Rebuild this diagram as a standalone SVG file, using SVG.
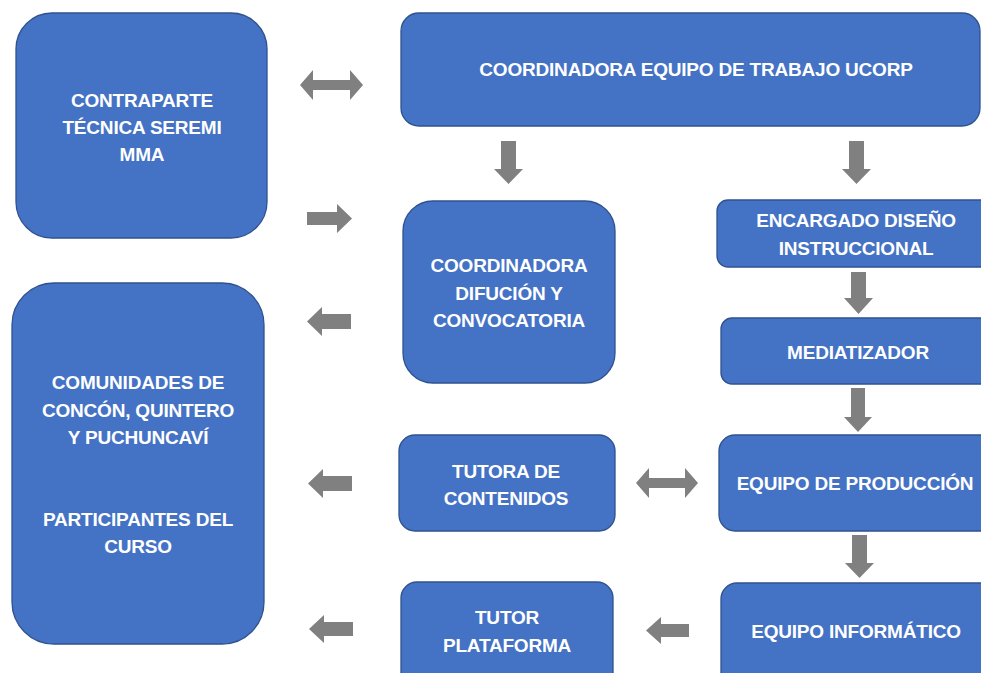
<svg xmlns="http://www.w3.org/2000/svg" width="981" height="673" viewBox="0 0 981 673">
<style>
.box{fill:#4472C4;stroke:#2F528F;stroke-width:1.3}
.t{font-family:"Liberation Sans",Arial,sans-serif;font-weight:bold;font-size:19px;letter-spacing:-0.2px;fill:#FFFFFF;text-anchor:middle}
.arr{fill:#808080}
</style>
<rect width="981" height="673" fill="#FFFFFF"/>
<g id="connectors">
<path class="arr" d="M300,85 L313,70 L313,80 L350,80 L350,70 L363,85 L350,100 L350,90 L313,90 L313,100 Z"/>
<path class="arr" d="M307,212 L337,212 L337,204 L352,218.5 L337,233 L337,225 L307,225 Z"/>
<path class="arr" d="M307,321.5 L322,307 L322,314 L351,314 L351,329 L322,329 L322,336 Z"/>
<path class="arr" d="M308,483.5 L323,469 L323,476 L352,476 L352,491 L323,491 L323,498 Z"/>
<path class="arr" d="M309,629 L324,615 L324,622 L353,622 L353,636 L324,636 L324,643 Z"/>
<path class="arr" d="M646,630.5 L661,617 L661,624 L689,624 L689,637 L661,637 L661,644 Z"/>
<path class="arr" d="M636,483 L649,468 L649,478 L685,478 L685,468 L698,483 L685,498 L685,488 L649,488 L649,498 Z"/>
<path class="arr" d="M501,141 L516,141 L516,169 L523,169 L508.5,184 L494,169 L501,169 Z"/>
<path class="arr" d="M849,141 L864,141 L864,169 L871,169 L856.5,184 L842,169 L849,169 Z"/>
<path class="arr" d="M851,272 L866,272 L866,298 L873,298 L858.5,314 L844,298 L851,298 Z"/>
<path class="arr" d="M851,388 L865,388 L865,417 L872,417 L858,432 L844,417 L851,417 Z"/>
<path class="arr" d="M852,535 L867,535 L867,563 L874,563 L859.5,578 L845,563 L852,563 Z"/>
</g>
<g id="contraparte">
<rect class="box" x="16" y="13" width="251" height="225" rx="36"/>
<text class="t" x="142" y="107">CONTRAPARTE</text>
<text class="t" x="142" y="134">TÉCNICA SEREMI</text>
<text class="t" x="142" y="161">MMA</text>
</g>
<g id="coordinadora-ucorp">
<rect class="box" x="401" y="13" width="579" height="113" rx="18"/>
<text class="t" x="696" y="76">COORDINADORA EQUIPO DE TRABAJO UCORP</text>
</g>
<g id="coordinadora-difusion">
<rect class="box" x="403" y="201" width="212" height="182" rx="30"/>
<text class="t" x="509" y="272">COORDINADORA</text>
<text class="t" x="509" y="300">DIFUCIÓN Y</text>
<text class="t" x="509" y="327">CONVOCATORIA</text>
</g>
<g id="encargado">
<rect class="box" x="717" y="200" width="280" height="67" rx="11"/>
<text class="t" x="856" y="227">ENCARGADO DISEÑO</text>
<text class="t" x="856" y="255">INSTRUCCIONAL</text>
</g>
<g id="mediatizador">
<rect class="box" x="721" y="318" width="276" height="66" rx="11"/>
<text class="t" x="858" y="359">MEDIATIZADOR</text>
</g>
<g id="comunidades">
<rect class="box" x="12" y="283" width="252" height="361" rx="42"/>
<text class="t" x="138" y="389">COMUNIDADES DE</text>
<text class="t" x="138" y="417">CONCÓN, QUINTERO</text>
<text class="t" x="138" y="444">Y PUCHUNCAVÍ</text>
<text class="t" x="138" y="526">PARTICIPANTES DEL</text>
<text class="t" x="138" y="553">CURSO</text>
</g>
<g id="tutora">
<rect class="box" x="399" y="435" width="216" height="96" rx="16"/>
<text class="t" x="506" y="478">TUTORA DE</text>
<text class="t" x="506" y="505">CONTENIDOS</text>
</g>
<g id="produccion">
<rect class="box" x="719" y="435" width="278" height="96" rx="16"/>
<text class="t" x="855" y="490">EQUIPO DE PRODUCCIÓN</text>
</g>
<g id="tutor-plataforma">
<rect class="box" x="401" y="582" width="212" height="110" rx="16"/>
<text class="t" x="507" y="624">TUTOR</text>
<text class="t" x="507" y="652">PLATAFORMA</text>
</g>
<g id="informatico">
<rect class="box" x="721" y="583" width="276" height="110" rx="16"/>
<text class="t" x="856" y="638">EQUIPO INFORMÁTICO</text>
</g>
</svg>
